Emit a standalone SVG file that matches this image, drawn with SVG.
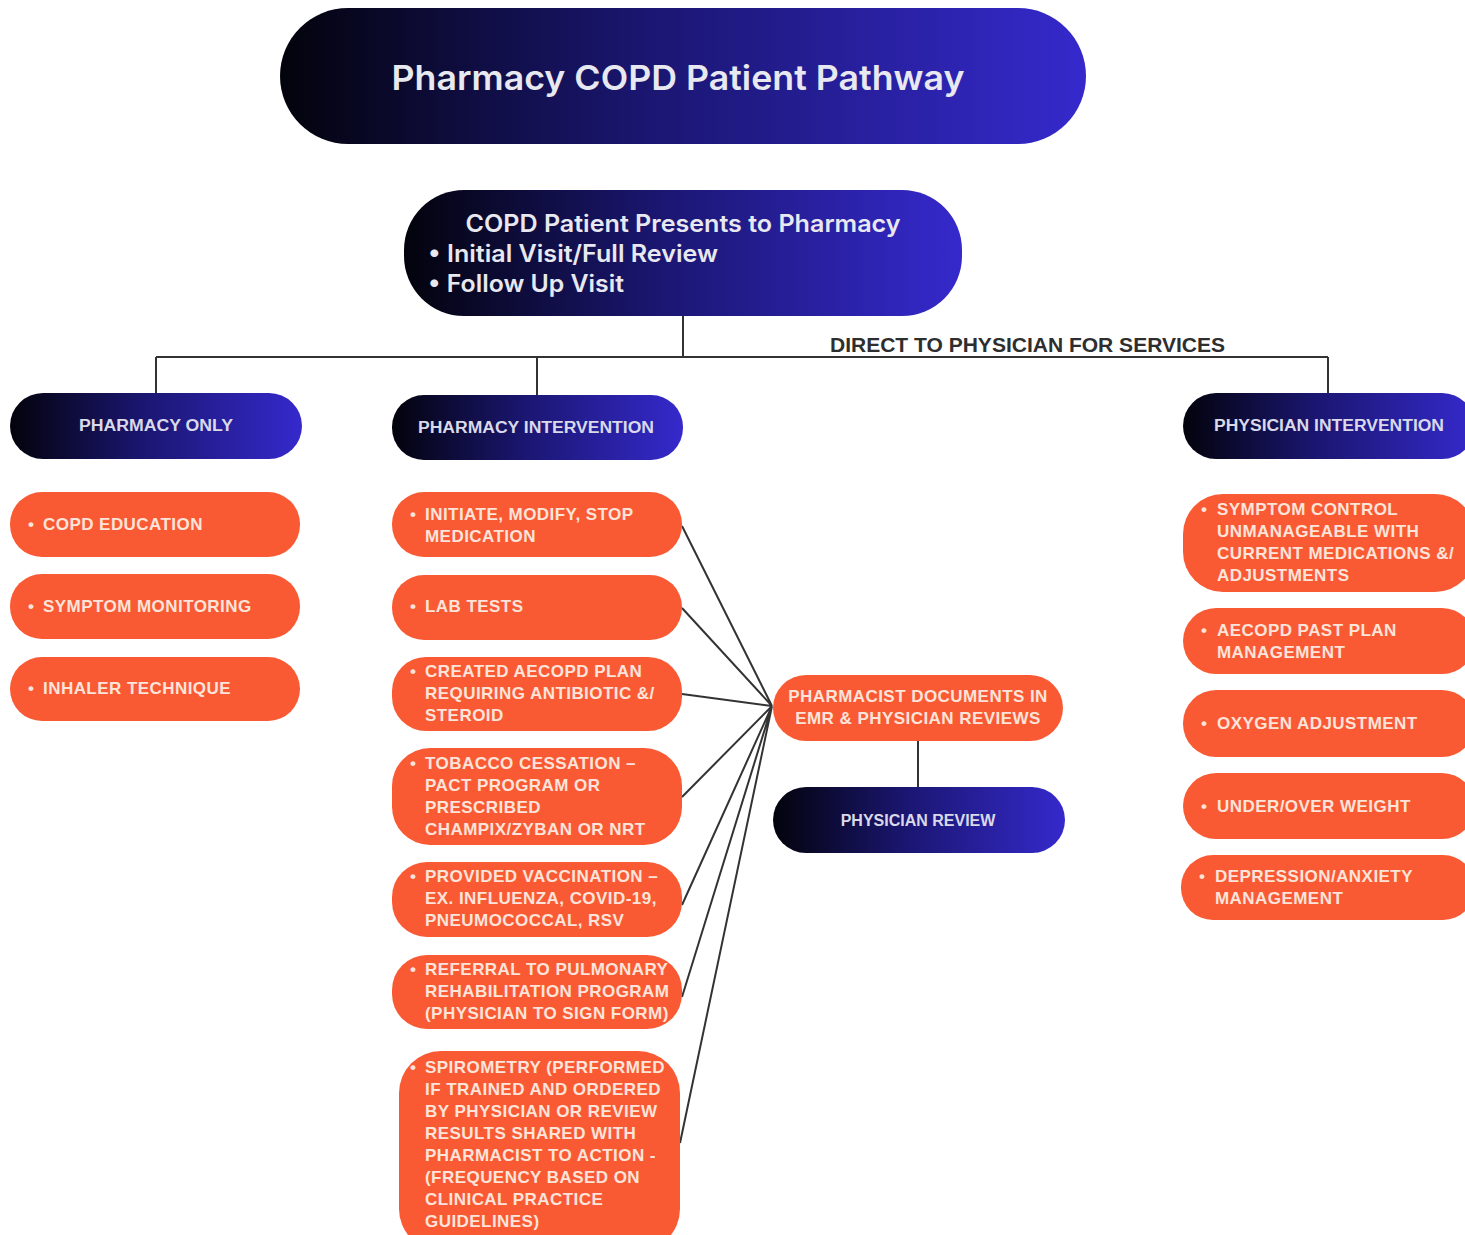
<svg xmlns="http://www.w3.org/2000/svg" width="1465" height="1235" viewBox="0 0 1465 1235">
  <defs>
    <linearGradient id="navy" x1="0" y1="0" x2="1" y2="0">
      <stop offset="0" stop-color="#03030c"/>
      <stop offset="0.45" stop-color="#1a1670"/>
      <stop offset="1" stop-color="#3529cc"/>
    </linearGradient>
    <style>
      .dark { fill: url(#navy); }
      .orange { fill: #f95a34; }
      .title { font-family: Inter, "Liberation Sans", sans-serif; font-weight: 600; fill: #e8e8f0; }
      .head { font-family: "Liberation Sans", Arial, sans-serif; font-weight: 700; font-size: 16px; fill: #d9d9ea; text-anchor: middle; }
      .item { font-family: "Liberation Sans", Arial, sans-serif; font-weight: 700; font-size: 17px; letter-spacing: 0.45px; fill: #fde4da; }
      .ctr { text-anchor: middle; }
      .wire { stroke: #333; stroke-width: 2; fill: none; }
      .label { font-family: "Liberation Sans", Arial, sans-serif; font-weight: 700; font-size: 20px; fill: #2e2e2e; }
    </style>
  </defs>
  <rect width="1465" height="1235" fill="#ffffff"/>

  <!-- connectors -->
  <g id="connectors">
    <path class="wire" d="M683 316 V357 M156 357 H1328 M156 357 V393 M537 357 V395 M1328 357 V393"/>
    <path class="wire" d="M918 741 V788"/>
    <path class="wire" d="M682 526 L772 706 M682 608 L772 706 M682 694 L772 706 M682 797 L772 706 M682 905 L772 706 M682 997 L772 706 M680 1143 L772 706"/>
    <text class="label" x="830" y="352" textLength="395" lengthAdjust="spacingAndGlyphs">DIRECT TO PHYSICIAN FOR SERVICES</text>
  </g>

  <!-- title -->
  <g id="title">
    <rect class="dark" x="280" y="8" width="806" height="136" rx="68"/>
    <text class="title" x="678" y="90" font-size="34" text-anchor="middle" textLength="573" lengthAdjust="spacingAndGlyphs">Pharmacy COPD Patient Pathway</text>
  </g>

  <!-- entry -->
  <g id="presents">
    <rect class="dark" x="404" y="190" width="558" height="126" rx="60"/>
    <text class="title" x="683" y="232" font-size="24" text-anchor="middle" textLength="435" lengthAdjust="spacingAndGlyphs">COPD Patient Presents to Pharmacy</text>
    <text class="title" x="428" y="262" font-size="24" textLength="290" lengthAdjust="spacingAndGlyphs">• Initial Visit/Full Review</text>
    <text class="title" x="428" y="292" font-size="24" textLength="196" lengthAdjust="spacingAndGlyphs">• Follow Up Visit</text>
  </g>

  <!-- column headers -->
  <g id="pharmacy-only">
    <rect class="dark" x="10" y="393" width="292" height="66" rx="33"/>
    <text class="head" x="156" y="431" textLength="154" lengthAdjust="spacingAndGlyphs">PHARMACY ONLY</text>
  </g>
  <g id="pharmacy-intervention">
    <rect class="dark" x="392" y="395" width="291" height="65" rx="32"/>
    <text class="head" x="536" y="433" textLength="236" lengthAdjust="spacingAndGlyphs">PHARMACY INTERVENTION</text>
  </g>
  <g id="physician-intervention">
    <rect class="dark" x="1183" y="393" width="292" height="66" rx="33"/>
    <text class="head" x="1329" y="431" textLength="230" lengthAdjust="spacingAndGlyphs">PHYSICIAN INTERVENTION</text>
  </g>

  <!-- pharmacy only items -->
  <g id="copd-education">
    <rect class="orange" x="10" y="492" width="290" height="65" rx="32"/>
    <text class="item" x="28" y="530">•</text>
    <text class="item" x="43" y="530">COPD EDUCATION</text>
  </g>
  <g id="symptom-monitoring">
    <rect class="orange" x="10" y="574" width="290" height="65" rx="32"/>
    <text class="item" x="28" y="612">•</text>
    <text class="item" x="43" y="612">SYMPTOM MONITORING</text>
  </g>
  <g id="inhaler-technique">
    <rect class="orange" x="10" y="657" width="290" height="64" rx="32"/>
    <text class="item" x="28" y="694">•</text>
    <text class="item" x="43" y="694">INHALER TECHNIQUE</text>
  </g>

  <!-- pharmacy intervention items -->
  <g id="initiate-medication">
    <rect class="orange" x="392" y="492" width="290" height="65" rx="32"/>
    <text class="item" x="410" y="520">•</text>
    <text class="item" x="425" y="520">INITIATE, MODIFY, STOP</text>
    <text class="item" x="425" y="542">MEDICATION</text>
  </g>
  <g id="lab-tests">
    <rect class="orange" x="392" y="575" width="290" height="65" rx="32"/>
    <text class="item" x="410" y="612">•</text>
    <text class="item" x="425" y="612">LAB TESTS</text>
  </g>
  <g id="aecopd-plan">
    <rect class="orange" x="392" y="657" width="290" height="74" rx="34"/>
    <text class="item" x="410" y="677">•</text>
    <text class="item" x="425" y="677">CREATED AECOPD PLAN</text>
    <text class="item" x="425" y="699">REQUIRING ANTIBIOTIC &amp;/</text>
    <text class="item" x="425" y="721">STEROID</text>
  </g>
  <g id="tobacco-cessation">
    <rect class="orange" x="392" y="748" width="290" height="97" rx="38"/>
    <text class="item" x="410" y="769">•</text>
    <text class="item" x="425" y="769">TOBACCO CESSATION –</text>
    <text class="item" x="425" y="791">PACT PROGRAM OR</text>
    <text class="item" x="425" y="813">PRESCRIBED</text>
    <text class="item" x="425" y="835">CHAMPIX/ZYBAN OR NRT</text>
  </g>
  <g id="vaccination">
    <rect class="orange" x="392" y="862" width="290" height="75" rx="35"/>
    <text class="item" x="410" y="882">•</text>
    <text class="item" x="425" y="882">PROVIDED VACCINATION –</text>
    <text class="item" x="425" y="904">EX. INFLUENZA, COVID-19,</text>
    <text class="item" x="425" y="926">PNEUMOCOCCAL, RSV</text>
  </g>
  <g id="pulmonary-rehab">
    <rect class="orange" x="392" y="955" width="290" height="74" rx="35"/>
    <text class="item" x="410" y="975">•</text>
    <text class="item" x="425" y="975">REFERRAL TO PULMONARY</text>
    <text class="item" x="425" y="997">REHABILITATION PROGRAM</text>
    <text class="item" x="425" y="1019">(PHYSICIAN TO SIGN FORM)</text>
  </g>
  <g id="spirometry">
    <rect class="orange" x="399" y="1051" width="281" height="200" rx="42"/>
    <text class="item" x="410" y="1073">•</text>
    <text class="item" x="425" y="1073">SPIROMETRY (PERFORMED</text>
    <text class="item" x="425" y="1095">IF TRAINED AND ORDERED</text>
    <text class="item" x="425" y="1117">BY PHYSICIAN OR REVIEW</text>
    <text class="item" x="425" y="1139">RESULTS SHARED WITH</text>
    <text class="item" x="425" y="1161">PHARMACIST TO ACTION -</text>
    <text class="item" x="425" y="1183">(FREQUENCY BASED ON</text>
    <text class="item" x="425" y="1205">CLINICAL PRACTICE</text>
    <text class="item" x="425" y="1227">GUIDELINES)</text>
  </g>

  <!-- documentation and review -->
  <g id="pharmacist-documents">
    <rect class="orange" x="773" y="675" width="290" height="66" rx="33"/>
    <text class="item ctr" x="918" y="702">PHARMACIST DOCUMENTS IN</text>
    <text class="item ctr" x="918" y="724">EMR &amp; PHYSICIAN REVIEWS</text>
  </g>
  <g id="physician-review">
    <rect class="dark" x="773" y="787" width="292" height="66" rx="33"/>
    <text class="head" x="918" y="826">PHYSICIAN REVIEW</text>
  </g>

  <!-- physician intervention items -->
  <g id="symptom-control">
    <rect class="orange" x="1183" y="494" width="292" height="98" rx="40"/>
    <text class="item" x="1201" y="515">•</text>
    <text class="item" x="1217" y="515">SYMPTOM CONTROL</text>
    <text class="item" x="1217" y="537">UNMANAGEABLE WITH</text>
    <text class="item" x="1217" y="559">CURRENT MEDICATIONS &amp;/</text>
    <text class="item" x="1217" y="581">ADJUSTMENTS</text>
  </g>
  <g id="aecopd-past-plan">
    <rect class="orange" x="1183" y="608" width="292" height="66" rx="33"/>
    <text class="item" x="1201" y="636">•</text>
    <text class="item" x="1217" y="636">AECOPD PAST PLAN</text>
    <text class="item" x="1217" y="658">MANAGEMENT</text>
  </g>
  <g id="oxygen-adjustment">
    <rect class="orange" x="1183" y="690" width="292" height="67" rx="33"/>
    <text class="item" x="1201" y="729">•</text>
    <text class="item" x="1217" y="729">OXYGEN ADJUSTMENT</text>
  </g>
  <g id="under-over-weight">
    <rect class="orange" x="1183" y="773" width="292" height="66" rx="33"/>
    <text class="item" x="1201" y="812">•</text>
    <text class="item" x="1217" y="812">UNDER/OVER WEIGHT</text>
  </g>
  <g id="depression-anxiety">
    <rect class="orange" x="1181" y="855" width="294" height="65" rx="32"/>
    <text class="item" x="1199" y="882">•</text>
    <text class="item" x="1215" y="882">DEPRESSION/ANXIETY</text>
    <text class="item" x="1215" y="904">MANAGEMENT</text>
  </g>
</svg>
